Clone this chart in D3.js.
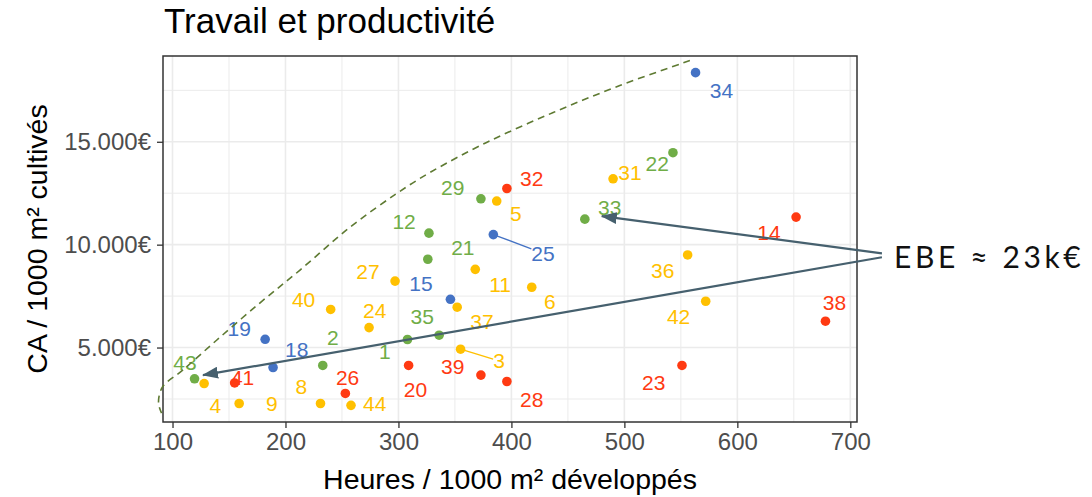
<!DOCTYPE html>
<html>
<head>
<meta charset="utf-8">
<script src="https://cdn.jsdelivr.net/npm/d3@7"></script>
<style>
  body { margin: 0; background: #fff; }
  svg { display: block; font-family: "Liberation Sans", Arial, sans-serif; }
</style>
</head>
<body>
<script>
// one entry per farm
const farmIds = [1, 2, 3, 4, 5, 6, 8, 9, 11, 12, 14, 15, 18, 19, 20, 21, 22, 23, 24, 25, 26, 27, 28, 29, 31, 32, 33, 34, 35, 36, 37, 38, 39, 40, 41, 42, 43, 44];
const hours = [308, 233, 355, 128, 387, 418, 231, 159, 368, 327, 652, 346, 189, 182, 309, 326, 543, 551, 274, 384, 253, 297, 396, 373, 490, 396, 465, 563, 336, 556, 352, 678, 373, 240, 155, 572, 119.5, 258];
const revenue = [5390, 4130, 4920, 3250, 12120, 7930, 2280, 2280, 8800, 10560, 11340, 7345, 4030, 5400, 4130, 9290, 14470, 4130, 5970, 10490, 2770, 8230, 3350, 12230, 13200, 12730, 11240, 18360, 5600, 9500, 6960, 6280, 3660, 6850, 3280, 7250, 3480, 2190];
const groups = ['vert', 'vert', 'jaune', 'jaune', 'jaune', 'jaune', 'jaune', 'jaune', 'jaune', 'vert', 'rouge', 'bleu', 'bleu', 'bleu', 'rouge', 'vert', 'vert', 'rouge', 'jaune', 'bleu', 'rouge', 'jaune', 'rouge', 'vert', 'jaune', 'rouge', 'vert', 'bleu', 'vert', 'jaune', 'jaune', 'rouge', 'rouge', 'jaune', 'rouge', 'jaune', 'vert', 'jaune'];
// where the repelled labels ended up, in data units
const labelHours = [288, 242, 389, 138, 404, 434, 214, 188, 390, 305, 628, 320, 210, 159, 315, 357, 529, 526, 279, 428, 255, 273, 418, 348, 505, 418, 487, 586, 321, 534, 374, 686, 348, 216, 162, 548, 111, 279];
const labelRevenue = [4790, 5470, 4350, 2200, 11505, 7260, 3090, 2280, 8060, 11130, 10610, 8136, 4930, 5920, 2980, 9880, 13930, 3280, 6780, 9590, 3570, 8720, 2480, 12800, 13500, 13230, 11800, 17490, 6490, 8750, 6280, 7210, 4060, 7345, 3570, 6490, 4300, 2280];

const groupNames = ['bleu', 'rouge', 'jaune', 'vert'];
const groupColors = ['#4472C4', '#FF3A12', '#FFC000', '#70AD47'];

const xTicks = [100, 200, 300, 400, 500, 600, 700];
const yTicks = [5000, 10000, 15000];

// hand-drawn overlay: dashed arc, two arrows and a note
const arcHours = [558, 496, 437, 378, 328, 298.5, 257, 212.6, 177, 139, 109, 91, 87.6, 90.3];
const arcRevenue = [18946, 17733, 16422, 14966, 13509, 12490, 10840, 8753, 7151, 5355, 3898, 3073, 2297, 1811];
const arrowFrom = [[728, 9580], [728, 9390]];
const arrowTo = [[480, 11390], [127, 3656]];
const note = 'EBE ≈ 23k€';

const width = 1092;
const height = 497;
const margin = {top: 56, right: 235, bottom: 75, left: 163};

const color = d3.scaleOrdinal(groupNames, groupColors);

const xExt = d3.extent(hours);
const yExt = d3.extent(revenue);
const xPad = (xExt[1] - xExt[0]) * 0.05;
const yPad = (yExt[1] - yExt[0]) * 0.05;

const x = d3.scaleLinear()
    .domain([xExt[0] - xPad, xExt[1] + xPad])
    .range([margin.left, width - margin.right]);
const y = d3.scaleLinear()
    .domain([yExt[0] - yPad, yExt[1] + yPad])
    .range([height - margin.bottom, margin.top]);

const svg = d3.select('body').append('svg')
    .attr('width', width)
    .attr('height', height)
    .attr('viewBox', [0, 0, width, height]);

const [x0, x1] = x.range();
const [y1, y0] = y.range();

// grid, minor then major
const xMinor = d3.range(150, 700, 100);
const yMinor = d3.range(2500, 19000, 5000);
const grid = svg.append('g').attr('stroke', '#EBEBEB');
grid.selectAll('.gx').data(xMinor.concat(xTicks)).join('line')
    .attr('x1', d => x(d)).attr('x2', d => x(d))
    .attr('y1', y0).attr('y2', y1)
    .attr('stroke-width', (d, i) => i < xMinor.length ? 1 : 1.6);
grid.selectAll('.gy').data(yMinor.concat(yTicks)).join('line')
    .attr('y1', d => y(d)).attr('y2', d => y(d))
    .attr('x1', x0).attr('x2', x1)
    .attr('stroke-width', (d, i) => i < yMinor.length ? 1 : 1.6);

// axes
const fmt = d => d3.format(',')(d).replace(/,/g, '.') + '€';
const xAxis = svg.append('g')
    .attr('transform', `translate(0,${y1})`)
    .call(d3.axisBottom(x).tickValues(xTicks).tickSize(6).tickPadding(5));
const yAxis = svg.append('g')
    .attr('transform', `translate(${x0},0)`)
    .call(d3.axisLeft(y).tickValues(yTicks).tickFormat(fmt).tickSize(6).tickPadding(6));
[xAxis, yAxis].forEach(a => {
  a.select('.domain').remove();
  a.selectAll('line').attr('stroke', '#333333').attr('stroke-width', 1.3);
  a.selectAll('text').attr('fill', '#4D4D4D').attr('font-size', 24)
    .attr('font-family', '"Liberation Sans", Arial, sans-serif');
});

const pts = farmIds.map((id, i) => ({
  id, hx: hours[i], ry: revenue[i], g: groups[i], lx: labelHours[i], ly: labelRevenue[i]
}));

// segments for labels pushed far away
const segs = svg.append('g');

const labels = svg.append('g')
    .attr('font-size', 21)
    .attr('text-anchor', 'middle')
  .selectAll('text')
  .data(pts)
  .join('text')
    .attr('x', d => x(d.lx))
    .attr('y', d => y(d.ly))
    .attr('dy', '0.36em')
    .attr('fill', d => color(d.g))
    .text(d => d.id);

labels.each(function(d) {
  const b = this.getBBox();
  const px = x(d.hx), py = y(d.ry);
  const cx = b.x + b.width / 2, cy = b.y + b.height / 2;
  const gx = Math.max(0, Math.abs(px - cx) - b.width / 2);
  const gy = Math.max(0, Math.abs(py - cy) - b.height / 2);
  if (Math.hypot(gx, gy) < 30) return;
  // stop where the centre line meets the label box
  const dx = cx - px, dy = cy - py;
  const s = Math.max((Math.abs(dx) - b.width / 2) / Math.abs(dx), (Math.abs(dy) - b.height / 2) / Math.abs(dy));
  segs.append('line')
      .attr('x1', px).attr('y1', py)
      .attr('x2', px + dx * s).attr('y2', py + dy * s)
      .attr('stroke', color(d.g))
      .attr('stroke-width', 1.3);
});

svg.append('g')
  .selectAll('circle')
  .data(pts)
  .join('circle')
    .attr('cx', d => x(d.hx))
    .attr('cy', d => y(d.ry))
    .attr('r', 4.8)
    .attr('fill', d => color(d.g));

// panel border
svg.append('rect')
    .attr('x', x0).attr('y', y0)
    .attr('width', x1 - x0).attr('height', y1 - y0)
    .attr('fill', 'none')
    .attr('stroke', '#333333')
    .attr('stroke-width', 1.5);

// titles
svg.append('text')
    .attr('x', x0 + 1)
    .attr('y', 33)
    .attr('font-size', 35)
    .attr('fill', '#000')
    .text('Travail et productivité');

svg.append('text')
    .attr('x', (x0 + x1) / 2)
    .attr('y', 489)
    .attr('text-anchor', 'middle')
    .attr('font-size', 28.5)
    .attr('fill', '#000')
    .text('Heures / 1000 m² développés');

svg.append('text')
    .attr('transform', `translate(47,${(y0 + y1) / 2}) rotate(-90)`)
    .attr('text-anchor', 'middle')
    .attr('font-size', 28.5)
    .attr('fill', '#000')
    .text('CA / 1000 m² cultivés');

// overlay
svg.append('path')
    .datum(arcHours.map((h, i) => [h, arcRevenue[i]]))
    .attr('d', d3.line().x(d => x(d[0])).y(d => y(d[1])).curve(d3.curveCatmullRom))
    .attr('fill', 'none')
    .attr('stroke', '#5E7A32')
    .attr('stroke-width', 1.6)
    .attr('stroke-dasharray', '7,5');

const arrowCol = '#46606E';
svg.append('defs').append('marker')
    .attr('id', 'head')
    .attr('viewBox', '0 0 16 12')
    .attr('refX', 15).attr('refY', 6)
    .attr('markerWidth', 16).attr('markerHeight', 12)
    .attr('markerUnits', 'userSpaceOnUse')
    .attr('orient', 'auto')
  .append('path')
    .attr('d', 'M0,0L16,6L0,12Z')
    .attr('fill', arrowCol);

svg.append('g')
  .selectAll('line')
  .data(arrowFrom.map((f, i) => [f, arrowTo[i]]))
  .join('line')
    .attr('x1', d => x(d[0][0])).attr('y1', d => y(d[0][1]))
    .attr('x2', d => x(d[1][0])).attr('y2', d => y(d[1][1]))
    .attr('stroke', arrowCol)
    .attr('stroke-width', 2.2)
    .attr('marker-end', 'url(#head)');

svg.append('text')
    .attr('x', 894)
    .attr('y', 268)
    .attr('font-family', 'Lato, "Open Sans", sans-serif')
    .attr('font-size', 30)
    .attr('letter-spacing', 3.6)
    .attr('fill', '#111')
    .text(note);
</script>
</body>
</html>
